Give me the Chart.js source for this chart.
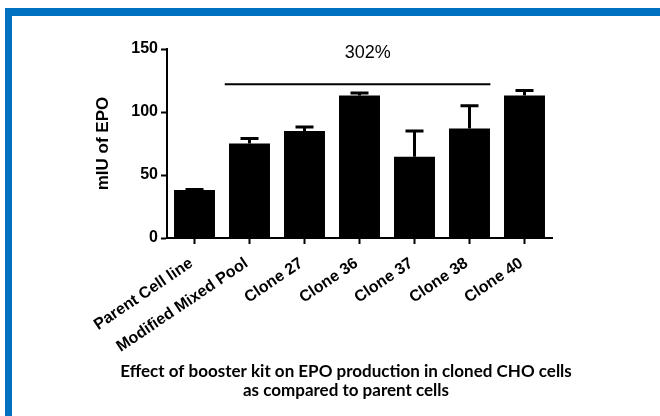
<!DOCTYPE html>
<html>
  <head>
    <meta charset="UTF-8">
    <title>EPO production in cloned CHO cells</title>
    <script src="https://cdn.jsdelivr.net/npm/chart.js@4"></script>
    <style>
      body { margin: 0; background: #fff; }
      #wrap { position: relative; width: 660px; height: 416px; }
      #frame {
        position: absolute; left: 5px; top: 8px; right: 0; bottom: 0;
        border-top: 8px solid #0070c0; border-left: 7px solid #0070c0;
        pointer-events: none;
      }
    </style>
  </head>
  <body>
    <div id="wrap">
      <canvas id="epoChart" width="660" height="416"></canvas>
      <div id="frame"></div>
    </div>
    <script>
      const categories = ['Parent Cell line', 'Modified Mixed Pool', 'Clone 27', 'Clone 36', 'Clone 37', 'Clone 38', 'Clone 40'];
      const epoValues = [38, 75, 85, 113, 64.5, 87, 113];
      const epoErrors = [0.5, 4, 3, 2, 20.5, 18, 4];
      const yTicks = [0, 50, 100, 150];
      const sigLabel = '302%';
      const sigLevel = 122;
      const caption = ['Effect of booster kit on EPO production in cloned CHO cells', 'as compared to parent cells'];

      const FONT = "'Liberation Sans', Arial, sans-serif";

      // error bars (upper only), the bracket line with its label, and the caption
      const extras = {
        id: 'extras',
        afterDatasetsDraw(chart) {
          const ctx = chart.ctx;
          const x = chart.scales.x, y = chart.scales.y;
          const meta = chart.getDatasetMeta(0);
          ctx.save();
          ctx.strokeStyle = '#000';
          ctx.lineWidth = 3;
          meta.data.forEach((bar, i) => {
            const yBar = y.getPixelForValue(epoValues[i]);
            const yTop = y.getPixelForValue(epoValues[i] + epoErrors[i]);
            ctx.beginPath();
            ctx.moveTo(bar.x, yBar);
            ctx.lineTo(bar.x, yTop);
            ctx.moveTo(bar.x - 9, yTop);
            ctx.lineTo(bar.x + 9, yTop);
            ctx.stroke();
          });

          const yl = y.getPixelForValue(sigLevel);
          ctx.lineWidth = 2;
          ctx.beginPath();
          ctx.moveTo(x.getPixelForValue(0.55), yl);
          ctx.lineTo(x.getPixelForValue(5.38), yl);
          ctx.stroke();

          ctx.fillStyle = '#000';
          ctx.font = '18px ' + FONT;
          ctx.textAlign = 'center';
          ctx.textBaseline = 'middle';
          ctx.fillText(sigLabel, x.getPixelForValue(3.15), y.getPixelForValue(147));

          ctx.font = 'bold 17px Lato, ' + FONT;
          ctx.textBaseline = 'alphabetic';
          caption.forEach((line, i) => ctx.fillText(line, 346, 377 + i * 19));
          ctx.restore();
        }
      };

      new Chart(document.getElementById('epoChart'), {
        type: 'bar',
        data: {
          labels: categories,
          datasets: [{
            data: epoValues,
            backgroundColor: '#000',
            borderWidth: 0,
            barPercentage: 0.745,
            categoryPercentage: 1
          }]
        },
        options: {
          responsive: false,
          animation: false,
          layout: { padding: { left: 0, right: 108, top: 49, bottom: 0 } },
          plugins: {
            legend: { display: false },
            tooltip: { enabled: false }
          },
          scales: {
            x: {
              offset: true,
              grid: { display: true, offset: false, drawOnChartArea: false, drawTicks: true, tickLength: 6, tickWidth: 2, tickColor: '#000' },
              border: { display: true, color: '#000', width: 2 },
              ticks: { color: '#000', font: { family: FONT, size: 16, weight: 'bold' }, minRotation: 34, maxRotation: 34, padding: 10, labelOffset: -3 },
              afterFit(scale) { scale.height = 178; }
            },
            y: {
              min: 0,
              max: 150,
              afterBuildTicks(scale) { scale.ticks = yTicks.map(v => ({ value: v })); },
              grid: { display: true, drawOnChartArea: false, drawTicks: true, tickLength: 6, tickWidth: 2, tickColor: '#000' },
              border: { display: true, color: '#000', width: 2 },
              ticks: { color: '#000', font: { family: FONT, size: 16, weight: 'bold' }, padding: 3 },
              title: {
                display: true,
                text: 'mIU of EPO',
                color: '#000',
                font: { family: FONT, size: 17, weight: 'bold' },
                padding: { top: 93, bottom: 0 }
              },
              afterFit(scale) { scale.width = 167; }
            }
          }
        },
        plugins: [extras]
      });
    </script>
  </body>
</html>
